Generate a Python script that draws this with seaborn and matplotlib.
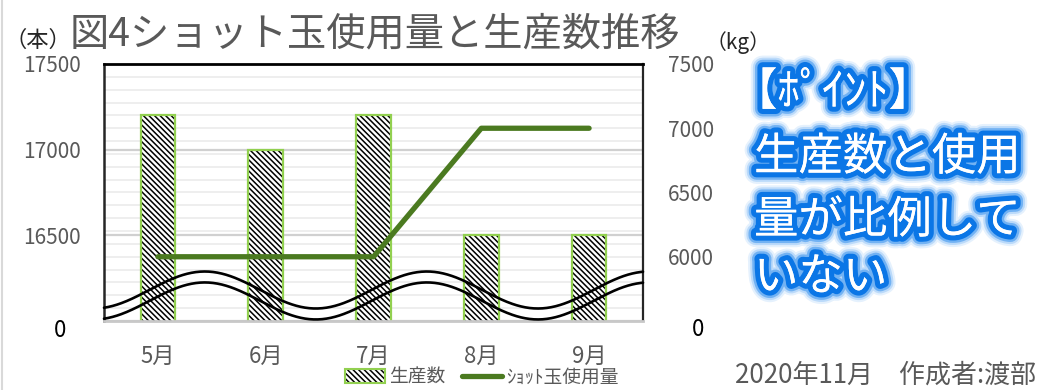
import numpy as np
import pandas as pd
import matplotlib
matplotlib.use("Agg")
import matplotlib.pyplot as plt
import matplotlib.patheffects as pe
from matplotlib.patches import Patch
from matplotlib.lines import Line2D
from matplotlib.legend_handler import HandlerTuple
from matplotlib.transforms import ScaledTranslation
from matplotlib.ticker import FixedLocator
import seaborn as sns

# ---- data ----
months = ["5月", "6月", "7月", "8月", "9月"]
production = [17200, 17000, 17200, 16500, 16500]   # 生産数 (本)
shot_usage = [6000, 6000, 6000, 7000, 7000]         # ショット玉使用量 (kg)

left_ticks = [16000, 16500, 17000, 17500]
left_labels = ["0", "16500", "17000", "17500"]
right_ticks = [5500, 6000, 6500, 7000, 7500]
right_labels = ["0", "6000", "6500", "7000", "7500"]

title = "図4ショット玉使用量と生産数推移"
bar_label = "生産数"
line_label = "ｼｮｯﾄ玉使用量"
point_lines = ["【ﾎﾟｲﾝﾄ】", "生産数と使用", "量が比例して", "いない"]
footer = "2020年11月　作成者:渡部"

# ---- style ----
sns.set_theme(style="white")
plt.rcParams["font.family"] = ["Noto Sans CJK JP", "DejaVu Sans"]
plt.rcParams["hatch.linewidth"] = 1.1

GRAY_TEXT = "#595959"
BAR_EDGE = "#92D050"
LINE_GREEN = "#4B7A20"
HATCH = "\\\\\\\\\\\\"

df = pd.DataFrame({"month": months, "production": production, "usage": shot_usage})

fig = plt.figure(figsize=(10.46, 3.90), dpi=100)
W, H = 1046, 390
ax = fig.add_axes([104 / W, (H - 321) / H, 539 / W, 257 / H])

# hatched bars (black hatch) with light-green outlines on top
sns.barplot(data=df, x="month", y="production", ax=ax, color="white",
            width=0.32, hatch=HATCH, edgecolor="black", linewidth=0,
            errorbar=None, zorder=2)
sns.barplot(data=df, x="month", y="production", ax=ax, color=BAR_EDGE,
            width=0.32, fill=False, linewidth=1.6, errorbar=None, zorder=3)

ax.set_ylim(16000, 17500)
ax.set_xlim(-0.5, len(months) - 0.5)
ax.set_yticks(left_ticks)
ax.set_yticklabels(left_labels)
ax.set_xlabel("")
ax.set_ylabel("")

# gridlines: light minor lines every 100 kg, darker major lines
ax.yaxis.set_minor_locator(FixedLocator(np.linspace(16000, 17500, 21)))
ax.grid(axis="y", which="minor", color="#ededed", linewidth=1.3)
ax.grid(axis="y", which="major", color="#d0d0d0", linewidth=1.6)
ax.set_axisbelow(True)

ax.tick_params(axis="y", which="both", length=0, pad=16.5, labelsize=15,
               labelcolor=GRAY_TEXT)
ax.tick_params(axis="x", length=0, pad=17, labelsize=16, labelcolor=GRAY_TEXT)
for sp in ax.spines.values():
    sp.set_visible(False)

# usage line on the secondary axis
ax2 = ax.twinx()
sns.lineplot(x=np.arange(len(months)), y=shot_usage, ax=ax2, color=LINE_GREEN,
             linewidth=3.8, solid_capstyle="round", zorder=4)
ax2.set_ylim(5500, 7500)
ax2.set_yticks(right_ticks)
ax2.set_yticklabels(right_labels)
ax2.set_ylabel("")
ax2.tick_params(axis="y", length=0, pad=18, labelsize=15, labelcolor=GRAY_TEXT)
ax2.grid(False)
ax.set_xticks(range(len(months)))
ax.set_xticklabels(months)

ax2.spines["top"].set_color("black")
ax2.spines["top"].set_linewidth(2.0)
ax2.spines["left"].set_color("#262626")
ax2.spines["left"].set_linewidth(1.8)
ax2.spines["right"].set_color("#262626")
ax2.spines["right"].set_linewidth(1.6)
ax2.spines["bottom"].set_color("#c8c8c8")
ax2.spines["bottom"].set_linewidth(2.0)

# "0" labels at the axis break: black and nudged outward
lab0 = ax.get_yticklabels()[0]
lab0.set_color("black")
lab0.set_fontsize(16)
lab0.set_transform(lab0.get_transform() + ScaledTranslation(-0.15, -0.07, fig.dpi_scale_trans))
lab0r = ax2.get_yticklabels()[0]
lab0r.set_color("black")
lab0r.set_fontsize(16)
lab0r.set_transform(lab0r.get_transform() + ScaledTranslation(0.24, -0.06, fig.dpi_scale_trans))

# wavy axis-break marker across the lower part of the plot
s = np.linspace(0, 1, 500)
wave = 0.072 * np.cos(2 * np.pi * (s - 0.187) / 0.412)
for base in (0.1206, 0.078):
    ax2.plot(s, base + wave, transform=ax2.transAxes, color="black",
             linewidth=1.9, zorder=5, clip_on=False)

# legend
bar_handle = (Patch(facecolor="white", edgecolor="black", hatch=HATCH, linewidth=0),
              Patch(facecolor="none", edgecolor=BAR_EDGE, linewidth=1.5))
line_handle = Line2D([], [], color=LINE_GREEN, linewidth=3.8)
fig.legend([bar_handle, line_handle], [bar_label, line_label],
           handler_map={tuple: HandlerTuple(ndivide=1)},
           loc="center", bbox_to_anchor=(482 / W, 1 - 377 / H), ncol=2,
           frameon=False, fontsize=13.5, handlelength=2.1, handleheight=0.8,
           handletextpad=0.25, columnspacing=0.9, labelcolor=GRAY_TEXT,
           borderpad=0.1)

# titles and unit labels
fig.text(70 / W, 1 - 34 / H, title, fontsize=28.3, color=GRAY_TEXT,
         ha="left", va="center")
fig.text(4 / W, 1 - 40 / H, "（本）", fontsize=16, color="#262626",
         ha="left", va="center")
fig.text(706 / W, 1 - 43 / H, "（kg）", fontsize=15, color="#262626",
         ha="left", va="center")
fig.text(735 / W, 1 - 375 / H, footer, fontsize=18.7, color=GRAY_TEXT,
         ha="left", va="center")

# highlighted note: white text with a soft blue glow
glow = [pe.withStroke(linewidth=17, foreground="#2a8cf0", alpha=0.12, joinstyle="round"),
        pe.withStroke(linewidth=14, foreground="#2a8cf0", alpha=0.22, joinstyle="round"),
        pe.withStroke(linewidth=11, foreground="#1a82ec", alpha=0.45, joinstyle="round"),
        pe.withStroke(linewidth=7.5, foreground="#0b76e6", joinstyle="round"),
        pe.Normal()]
note_pos = [(733, 92), (754, 157), (754, 220), (754, 277)]
for txt, (px, py) in zip(point_lines, note_pos):
    fig.text(px / W, 1 - py / H, txt, fontsize=32, color="white",
             ha="left", va="center", path_effects=glow)

# thin frame line on the left edge
fig.add_artist(Line2D([0.002, 0.002], [0, 1], transform=fig.transFigure,
                      color="#d9d9d9", linewidth=1.5))

fig.savefig("out.png", dpi=100)
